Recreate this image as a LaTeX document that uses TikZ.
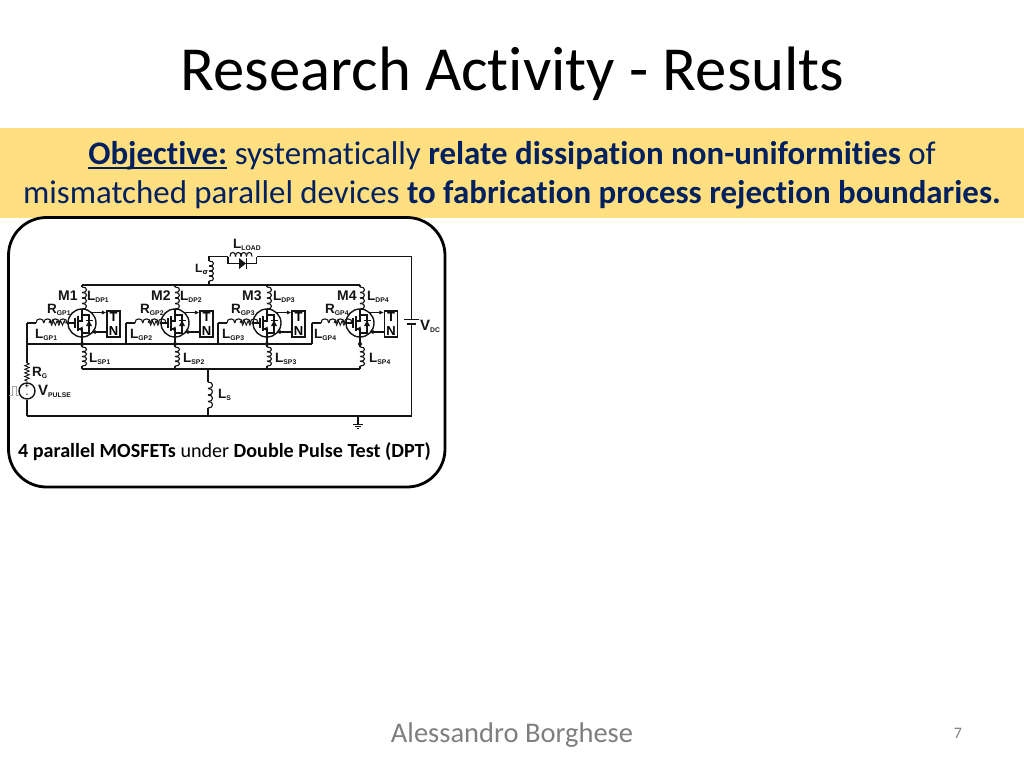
\documentclass[tikz,border=0pt]{standalone}
\usepackage{fontspec}
\setmainfont[Ligatures=NoCommon]{Carlito}
\newfontfamily\labfont{Liberation Sans}
\usetikzlibrary{arrows.meta,decorations.pathmorphing}
\definecolor{band}{HTML}{FFDF80}
\definecolor{navy}{HTML}{002060}
\definecolor{wire}{HTML}{141414}
\definecolor{foot}{HTML}{7F7F7F}
\newcommand{\sublab}[3]{\labfont\bfseries\fontsize{#3}{#3}\selectfont #1\raisebox{-2.4pt}{\fontsize{6.8}{6.8}\selectfont #2}}
\newsavebox{\ulbox}
\newcommand{\heavyul}[1]{\sbox{\ulbox}{#1}\rlap{\rule[-4.6pt]{\wd\ulbox}{1.5pt}}\usebox{\ulbox}}
\tikzset{
  x=1pt,y=-1pt,
  wireline/.style={draw=wire,line width=1.4pt},
  thin part/.style={draw=wire,line width=1.1pt},
  hair part/.style={draw=wire,line width=.85pt},
  lab/.style={anchor=base west,inner sep=0pt,text=wire},
  tnbox/.style={draw=wire,line width=1.4pt,fill=white,minimum width=13pt,minimum height=26pt,inner sep=0pt,
    font=\labfont\bfseries\fontsize{13}{13.5}\selectfont,align=center},
  mosring/.style={circle,draw=wire,line width=1.4pt,minimum size=28pt,inner sep=0pt},
  smalltip/.style={-{Latex[length=4.5pt,width=4.5pt]}},
  res/.style={decorate,decoration={zigzag,segment length=3.6pt,amplitude=2.3pt}},
  titletext/.style={font=\fontsize{62.7}{66}\selectfont,text=black,inner sep=0pt},
  bandtext/.style={font=\fontsize{32.9}{34}\selectfont,text=navy,inner sep=0pt},
  foottext/.style={inner sep=0pt,text=foot}
}
% vertical coil with bumps to the right: x, top y, bottom y, number of turns
\newcommand{\vcoil}[4]{%
  \pgfmathsetmacro{\cstep}{(#3-#2)/#4}%
  \foreach \ci in {1,...,#4}{%
    \draw[thin part] (#1,{#2+(\ci-1)*\cstep}) .. controls (#1+6,{#2+(\ci-1)*\cstep-0.5}) and (#1+6,{#2+\ci*\cstep+0.5}) .. (#1,{#2+\ci*\cstep});
  }}
% horizontal coil with bumps upwards: y, left x, right x, number of turns
\newcommand{\hcoil}[4]{%
  \pgfmathsetmacro{\cstep}{(#3-#2)/#4}%
  \foreach \ci in {1,...,#4}{%
    \draw[thin part] ({#2+(\ci-1)*\cstep},#1) .. controls ({#2+(\ci-1)*\cstep-0.5},#1-5.5) and ({#2+\ci*\cstep+0.5},#1-5.5) .. ({#2+\ci*\cstep},#1);
  }}
% one MOSFET stage: #1 name, #2 centre x
\newcommand{\stage}[2]{%
  \node[mosring] (#1) at (#2,323) {};
  \coordinate (#1g) at (#2-7,323);
  \coordinate (#1d) at (#2,309);
  \coordinate (#1s) at (#2,337);
  \draw[wireline] (#2-7,318) -- (#2-7,328);
  \draw[wireline] (#2-4,316) -- (#2-4,331);
  \draw[wireline] (#2-4,321) -- (#2,321) -- (#1d);
  \draw[wireline] (#2-4,329) -- (#2,329) -- (#1s);
  \fill[wire] (#2-3.5,329) -- (#2+.5,326.5) -- (#2+.5,331.5) -- cycle;
  \draw[thin part] (#2,315) -- (#2+7,315) -- (#2+7,333) -- (#2,333);
  \fill[wire] (#2+4,326) -- (#2+10,326) -- (#2+7,320.5) -- cycle;
  \draw[thin part] (#2+3.5,320.5) -- (#2+10.5,320.5);
}
\begin{document}
\begin{tikzpicture}
\useasboundingbox (0,0) rectangle (1024,768);
\fill[white] (0,0) rectangle (1024,768);
\node[titletext,anchor=base] (title) at (512.5,90) {Research Activity - Results};
\fill[band] (0,128) rectangle (1024,218);
\node[bandtext,anchor=base] (obj1) at (512,164) {\heavyul{\textbf{Objective:}} systematically \textbf{relate dissipation non-uniformities} of};
\node[bandtext,anchor=base] (obj2) at (512,203) {mismatched parallel devices \textbf{to fabrication process rejection boundaries.}};
\draw[black,line width=2.8pt,fill=white,rounded corners=38pt] (8.5,217.5) rectangle (445,487);

% named junctions
\coordinate (topL) at (82,285);
\coordinate (topR) at (360,285);
\coordinate (sigB) at (209,285);
\coordinate (sigT) at (209,256.5);
\coordinate (loadL) at (228,256.5);
\coordinate (loadR) at (256.5,256.5);
\coordinate (rt) at (411.5,256.5);
\coordinate (capT) at (411.5,319.5);
\coordinate (capB) at (411.5,324);
\coordinate (rb) at (411.5,416);
\coordinate (lb) at (27,416);
\coordinate (gbL) at (27,344);
\coordinate (gbR) at (312,344);
\coordinate (gt1) at (27,323);
\coordinate (gt2) at (126,323);
\coordinate (gt3) at (218,323);
\coordinate (gt4) at (312,323);
\coordinate (sbL) at (82,369);
\coordinate (sbR) at (360,369);
\coordinate (lsT) at (208,369);
\coordinate (lsB) at (208,416);
\coordinate (gnd) at (358,416);
\coordinate (gnd2) at (358,424);

\stage{m1}{82}\stage{m2}{175}\stage{m3}{267}\stage{m4}{360}
\node[tnbox] (tn1) at (113.5,324) {T\\N};
\node[tnbox] (tn2) at (206.5,324) {T\\N};
\node[tnbox] (tn3) at (298.5,324) {T\\N};
\node[tnbox] (tn4) at (391,324) {T\\N};

% buses
\draw[wireline] (topL) -- (topR);
\draw[wireline] (gbL) -- (gbR);
\draw[wireline] (sbL) -- (sbR);
\draw[wireline] (lb) -- (lsB) -- (rb) -- (capB);
\draw[wireline] (capT) -- (rt) -- (loadR);
\draw[wireline] (gt1) -- (gbL);
\draw[wireline] (gt2) -- (126,344);
\draw[wireline] (gt3) -- (218,344);
\draw[wireline] (gt4) -- (gbR);

% drain, source inductors, gate branches, sense arrows
\foreach \n/\x/\gx in {1/82/27,2/175/126,3/267/218,4/360/312}{
  \draw[wireline] (\x,285) -- (\x,287);
  \vcoil{\x}{287}{309}{4}
  \draw[wireline] (m\n s) -- (\x,344) -- (\x,347);
  \vcoil{\x}{347}{366}{4}
  \draw[wireline] (\x,366) -- (\x,369);
  \fill[wire] (\x,344) circle (2pt);
  \draw[wireline] (\gx,323) -- (\gx+9,323);
  \hcoil{323}{\gx+9}{\gx+22}{4}
  \draw[hair part,res] (\gx+22,323) -- (\x-15,323);
  \draw[wireline] (\x-15,323) -- (m\n g);
  \draw[thin part,smalltip] (\x+8,312.5) -- (tn\n.west|-\x,312.5);
  \draw[thin part,smalltip] (tn\n.west|-\x,332) -- (\x+9,332);
}

% L sigma and load
\draw[wireline] (sigB) -- (209,281);
\vcoil{209}{261}{281}{4}
\draw[wireline] (209,261) -- (sigT) -- (loadL);
\hcoil{256.5}{230}{252}{4}
\draw[wireline] (loadL) -- (228,263.5) -- (256.5,263.5) -- (loadR);
\fill[wire] (239,258) -- (239,269) -- (246,263.5) -- cycle;
\draw[wireline] (246.5,258) -- (246.5,269);

% capacitor
\draw[wireline] (404,319.5) -- (419,319.5);
\draw[wireline] (407,324) -- (416,324);

% source inductor
\draw[wireline] (lsT) -- (208,382);
\vcoil{208}{382}{408}{4}
\draw[wireline] (208,408) -- (lsB);

% gate driver
\draw[wireline] (gbL) -- (27,363);
\draw[hair part,res] (27,363) -- (27,382);
\node[circle,draw=wire,line width=1.4pt,minimum size=16pt,inner sep=0pt] (vp) at (27,391) {};
\node[inner sep=0pt,font=\labfont\bfseries\fontsize{7}{7}\selectfont,text=wire] (vpplus) at (27,386.5) {+};
\node[inner sep=0pt,font=\labfont\bfseries\fontsize{7}{7}\selectfont,text=wire] (vpminus) at (27,395) {-};
\draw[wireline] (vp.south) -- (lb);
\draw[gray!70,line width=.8pt] (9,395) -- (12,395) -- (12,386) -- (16,386) -- (16,395) -- (19,395);

% ground
\draw[wireline] (gnd) -- (gnd2);
\draw[hair part] (353,424) -- (363,424);
\draw[hair part] (355,426.2) -- (361,426.2);
\draw[hair part] (356.8,428.4) -- (359.2,428.4);

% labels
\node[lab] (lload) at (233,248) {\sublab{L}{LOAD}{13.5}};
\node[lab] (lsig) at (195,272) {\labfont\bfseries\fontsize{12}{12}\selectfont L\raisebox{-2.2pt}{\fontsize{7}{7}\selectfont\fontspec{DejaVu Sans}σ}};
\node[lab,font=\labfont\bfseries\fontsize{14}{14}\selectfont] (lm1) at (58,300) {M1};
\node[lab,font=\labfont\bfseries\fontsize{14}{14}\selectfont] (lm2) at (151,300) {M2};
\node[lab,font=\labfont\bfseries\fontsize{14}{14}\selectfont] (lm3) at (242,300) {M3};
\node[lab,font=\labfont\bfseries\fontsize{14}{14}\selectfont] (lm4) at (337,300) {M4};
\node[lab] (ldp1) at (87,300) {\sublab{L}{DP1}{13.5}};
\node[lab] (ldp2) at (180,300) {\sublab{L}{DP2}{13.5}};
\node[lab] (ldp3) at (273,300) {\sublab{L}{DP3}{13.5}};
\node[lab] (ldp4) at (367,300) {\sublab{L}{DP4}{13.5}};
\node[lab] (rgp1) at (47,313) {\sublab{R}{GP1}{13.5}};
\node[lab] (rgp2) at (140,313) {\sublab{R}{GP2}{13.5}};
\node[lab] (rgp3) at (231,313) {\sublab{R}{GP3}{13.5}};
\node[lab] (rgp4) at (325,313) {\sublab{R}{GP4}{13.5}};
\node[lab] (lgp1) at (35,338) {\sublab{L}{GP1}{13.5}};
\node[lab] (lgp2) at (130,338) {\sublab{L}{GP2}{13.5}};
\node[lab] (lgp3) at (222,338) {\sublab{L}{GP3}{13.5}};
\node[lab] (lgp4) at (314,338) {\sublab{L}{GP4}{13.5}};
\node[lab] (vdc) at (420,330) {\sublab{V}{DC}{15}};
\node[lab] (lsp1) at (89,362) {\sublab{L}{SP1}{13.5}};
\node[lab] (lsp2) at (183,362) {\sublab{L}{SP2}{13.5}};
\node[lab] (lsp3) at (275,362) {\sublab{L}{SP3}{13.5}};
\node[lab] (lsp4) at (369,362) {\sublab{L}{SP4}{13.5}};
\node[lab] (lrg) at (32,376) {\sublab{R}{G}{13.5}};
\node[lab] (lvp) at (38,395) {\sublab{V}{PULSE}{15}};
\node[lab] (lls) at (218,398) {\sublab{L}{S}{13.5}};

\node[inner sep=0pt,anchor=base,font=\fontsize{20.1}{22}\selectfont,text=black] (cap) at (224.5,457) {\textbf{4 parallel MOSFETs} under \textbf{Double Pulse Test (DPT)}};
\node[foottext,anchor=base,font=\fontsize{28.5}{30}\selectfont] (auth) at (512,742) {Alessandro Borghese};
\node[foottext,anchor=base,font=\fontsize{16}{18}\selectfont] (pg) at (958,738) {7};
\end{tikzpicture}
\end{document}
